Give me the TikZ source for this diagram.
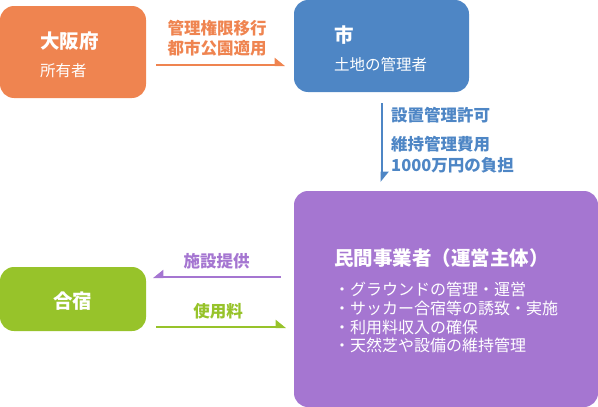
\documentclass[tikz,border=0pt]{standalone}
\usepackage{fontspec}
\setmainfont{Noto Sans CJK JP}
\usetikzlibrary{arrows.meta}
\definecolor{cor}{HTML}{EF8450}
\definecolor{cbl}{HTML}{4E86C5}
\definecolor{cpu}{HTML}{A576D1}
\definecolor{cgr}{HTML}{97C32A}
\begin{document}
\begin{tikzpicture}[x=1pt,y=-1pt,
  box/.style={rounded corners=14pt, inner sep=0pt, outer sep=0pt, anchor=north west},
  ttl/.style={anchor=west, inner sep=0pt, text=white, font=\bfseries\fontsize{19.5}{19.5}\selectfont},
  sub/.style={anchor=west, inner sep=0pt, text=white, font=\fontsize{15.5}{15.5}\selectfont},
  bul/.style={anchor=west, inner sep=0pt, text=white, font=\fontsize{16}{16}\selectfont},
  lbl/.style={inner sep=0pt, font=\bfseries\fontsize{16.5}{16.5}\selectfont},
  arr/.style={line width=2pt, -{Triangle[harpoon, length=9pt, width=14pt]}},
  arrs/.style={line width=2pt, -{Triangle[harpoon, swap, length=9pt, width=14pt]}}
]
\useasboundingbox (0,0) rectangle (598,407);
% boxes
\node[box, fill=cor, minimum width=146pt, minimum height=92pt] (osaka) at (0,6) {};
\node[box, fill=cbl, minimum width=175pt, minimum height=92pt] (shi) at (294,0) {};
\node[box, fill=cpu, minimum width=304pt, minimum height=216pt] (minkan) at (294,191) {};
\node[box, fill=cgr, minimum width=146pt, minimum height=64pt] (gass) at (0,267) {};
% box texts
\node[ttl] (osakaT) at (40,41) {大阪府};
\node[sub] (osakaS) at (40,71) {所有者};
\node[ttl] (shiT) at (334,35) {市};
\node[sub] (shiS) at (334,65) {土地の管理者};
\node[ttl] (minT) at (334,258) {民間事業者（運営主体）};
\node[bul] (minB1) at (334,289) {・グラウンドの管理・運営};
\node[bul] (minB2) at (334,308) {・サッカー合宿等の誘致・実施};
\node[bul] (minB3) at (334,327) {・利用料収入の確保};
\node[bul] (minB4) at (334,345) {・天然芝や設備の維持管理};
\node[ttl, anchor=center] (gassT) at (72.5,301) {合宿};
% helper coordinates
\coordinate (yA) at (0,65);
\coordinate (yC) at (0,277);
\coordinate (yD) at (0,327);
% connectors
\draw[arr, cor] ([xshift=10pt]osaka.east |- yA) -- ([xshift=-9pt]shi.west |- yA);
\draw[arr, cbl] ([yshift=-11pt]shi.south) -- ([yshift=9pt]shi.south |- minkan.north);
\draw[arrs, cpu] ([xshift=-13pt]minkan.west |- yC) -- ([xshift=7pt]gass.east |- yC);
\draw[arr, cgr] ([xshift=10pt]gass.east |- yD) -- ([xshift=-8pt]minkan.west |- yD);
% connector labels
\node[lbl, text=cor] (l1) at (217,28.5) {管理権限移行};
\node[lbl, text=cor] (l2) at (217,48) {都市公園適用};
\node[lbl, text=cbl, anchor=west] (l3) at (391,115) {設置管理許可};
\node[lbl, text=cbl, anchor=west] (l4) at (391,144) {維持管理費用};
\node[lbl, text=cbl, anchor=west] (l5) at (391,165) {1000万円の負担};
\node[lbl, text=cpu] (l6) at (216.5,261) {施設提供};
\node[lbl, text=cgr] (l7) at (218,311) {使用料};
\end{tikzpicture}
\end{document}
